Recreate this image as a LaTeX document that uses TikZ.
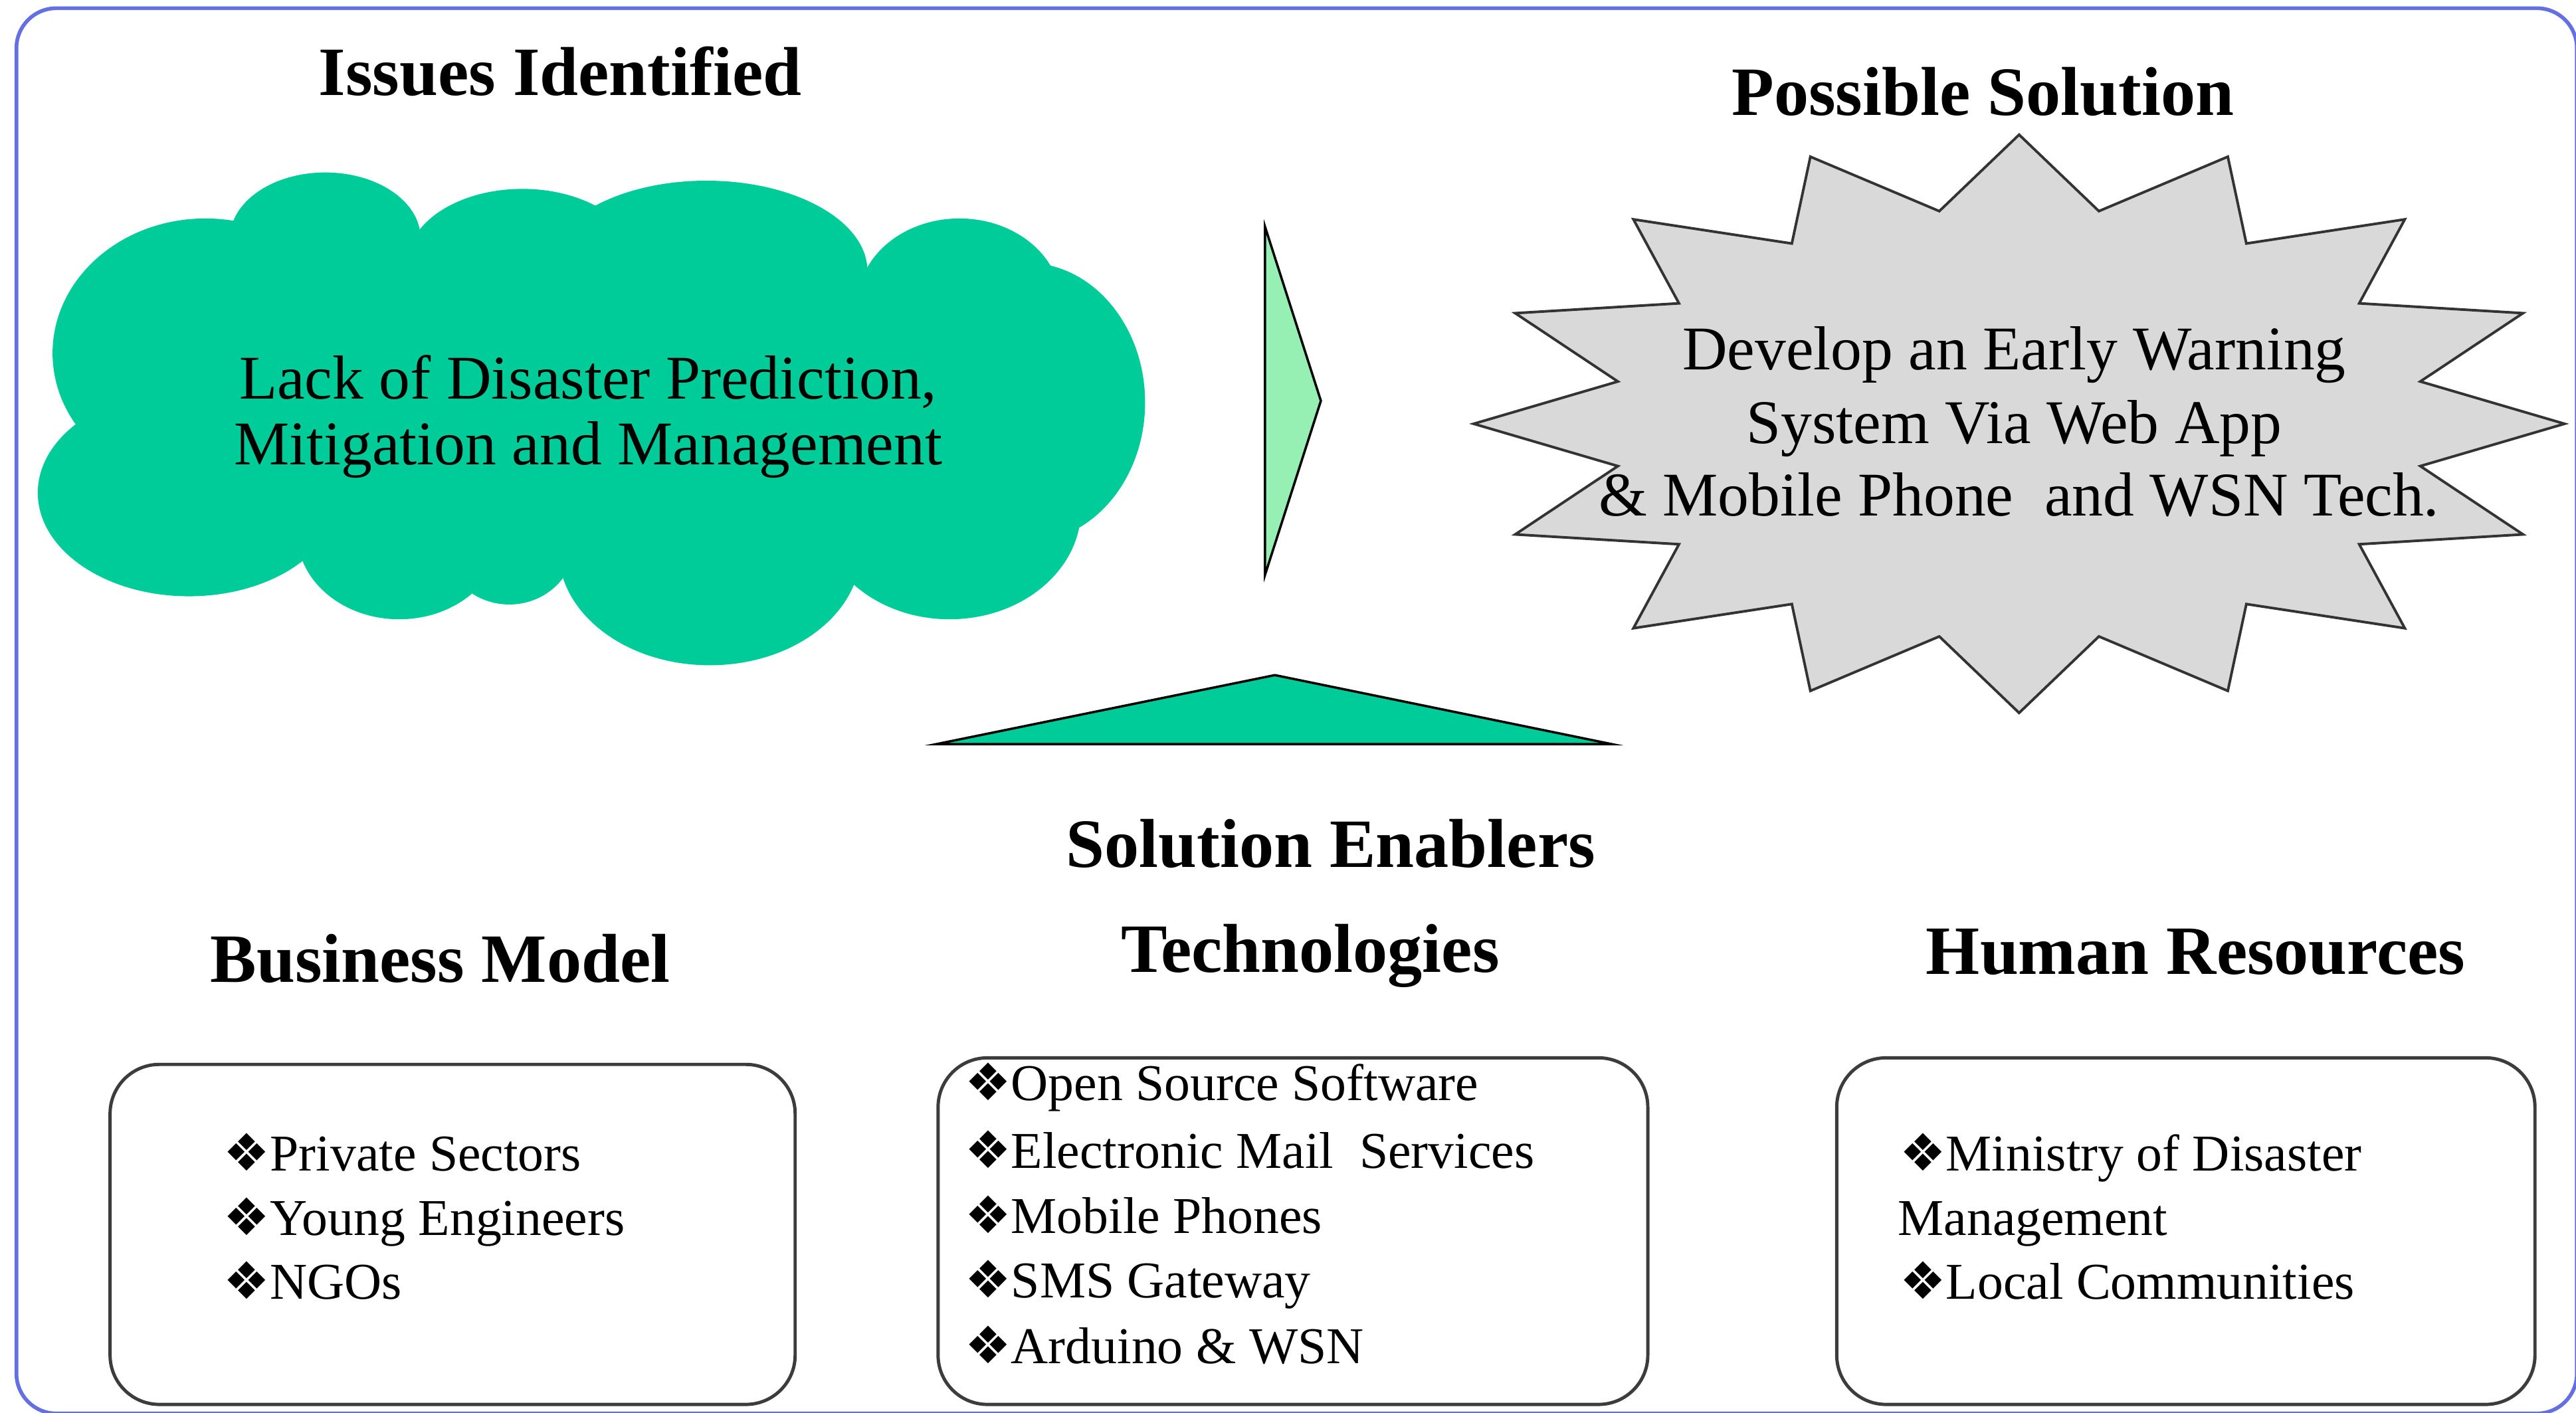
\documentclass[tikz,border=0pt]{standalone}
\usepackage{fontspec}
\setmainfont{Liberation Serif}
\newfontfamily\dingfont{DejaVu Sans}
\newcommand\bul{{\dingfont ❖}}
\definecolor{framecol}{RGB}{100,112,225}
\definecolor{cloudgreen}{RGB}{0,204,153}
\definecolor{lightgreen}{RGB}{150,240,180}
\definecolor{stargray}{RGB}{217,217,217}
\definecolor{boxline}{RGB}{60,60,60}
\tikzset{
  framesty/.style={draw=framecol, line width=1.6pt, rounded corners=17pt},
  heading/.style={font=\fontsize{29.5}{32}\selectfont\bfseries, anchor=base, inner sep=0pt},
  bodytxt/.style={font=\fontsize{26.5}{28}\selectfont, anchor=base, inner sep=0pt},
  itemtxt/.style={font=\fontsize{22}{24}\selectfont, anchor=base west, inner sep=0pt},
  rbox/.style={draw=boxline, line width=1.4pt, rounded corners=21pt, fill=white, inner sep=0pt},
  puff/.style={fill=cloudgreen},
  tri/.style={draw=black, line width=1pt, line join=miter},
  starsty/.style={draw=black!80, fill=stargray, line width=1.1pt, line join=miter},
}
\begin{document}
\begin{tikzpicture}[x=0.7pt,y=-0.7pt]
\useasboundingbox (0,0) rectangle (1568,860);
% outer frame
\draw[framesty] (10,5) rectangle (1568.5,860.5);
% cloud
\fill[puff] (120,170) rectangle (640,330);
\fill[puff] (150,150) rectangle (520,330);
\fill[puff] (198,145) ellipse [x radius=58, y radius=40];
\fill[puff] (318,160) ellipse [x radius=70, y radius=45];
\fill[puff] (430,165) ellipse [x radius=98, y radius=55];
\fill[puff] (584,185) ellipse [x radius=62, y radius=52];
\fill[puff] (625,245) ellipse [x radius=72, y radius=85];
\fill[puff] (578,310) ellipse [x radius=80, y radius=67];
\fill[puff] (432,335) ellipse [x radius=92, y radius=70];
\fill[puff] (310,330) ellipse [x radius=40, y radius=38];
\fill[puff] (243,325) ellipse [x radius=62, y radius=52];
\fill[puff] (115,300) ellipse [x radius=92, y radius=63];
\fill[puff] (125,215) ellipse [x radius=93, y radius=82];
% triangles
\draw[tri, fill=lightgreen] (770,138) -- (804,244) -- (770,350) -- cycle;
\draw[tri, fill=cloudgreen] (570,453) -- (776,411) -- (981,453) -- cycle;
% star
\draw[starsty] (1229,82) \foreach \i in {1,...,31} { -- ({1229+332*(1-0.25*mod(\i,2))*cos(90+11.25*\i)}, {258-176*(1-0.25*mod(\i,2))*sin(90+11.25*\i)}) } -- cycle;
% boxes
\node[rbox, minimum width=291.9pt, minimum height=144.9pt] (bmbox) at (275.5,751.5) {};
\node[rbox, minimum width=302.4pt, minimum height=147.7pt] (techbox) at (787,749.5) {};
\node[rbox, minimum width=297.5pt, minimum height=147.7pt] (hrbox) at (1330.5,749.5) {};
% headings
\node[heading] (issues) at (341,58) {Issues Identified};
\node[heading] (possible) at (1207,70) {Possible Solution};
\node[heading] (enablers) at (810,528) {Solution Enablers};
\node[heading] (business) at (268,598) {Business Model};
\node[heading] (tech) at (797.5,592) {Technologies};
\node[heading] (human) at (1336.5,593) {Human Resources};
% cloud text
\node[bodytxt] (cloudA) at (358,243) {Lack of Disaster Prediction,};
\node[bodytxt] (cloudB) at (358,283) {Mitigation and Management};
% star text
\node[bodytxt] (starA) at (1226,225) {Develop an Early Warning};
\node[bodytxt] (starB) at (1226,270) {System Via Web App};
\node[bodytxt] (starC) at (1229,314) {\& Mobile Phone\ \ and WSN Tech.};
% box items
\node[itemtxt] (bm1) at (136,713) {\bul Private Sectors};
\node[itemtxt] (bm2) at (136,752) {\bul Young Engineers};
\node[itemtxt] (bm3) at (136,791) {\bul NGOs};
\node[itemtxt] (t1) at (587,670) {\bul Open Source Software};
\node[itemtxt] (t2) at (587,711) {\bul Electronic Mail\ \ Services};
\node[itemtxt] (t3) at (587,751) {\bul Mobile Phones};
\node[itemtxt] (t4) at (587,790) {\bul SMS Gateway};
\node[itemtxt] (t5) at (587,830) {\bul Arduino \& WSN};
\node[itemtxt] (h1) at (1156,713) {\bul Ministry of Disaster};
\node[itemtxt] (h2) at (1155,752) {Management};
\node[itemtxt] (h3) at (1156,791) {\bul Local Communities};
\end{tikzpicture}
\end{document}
